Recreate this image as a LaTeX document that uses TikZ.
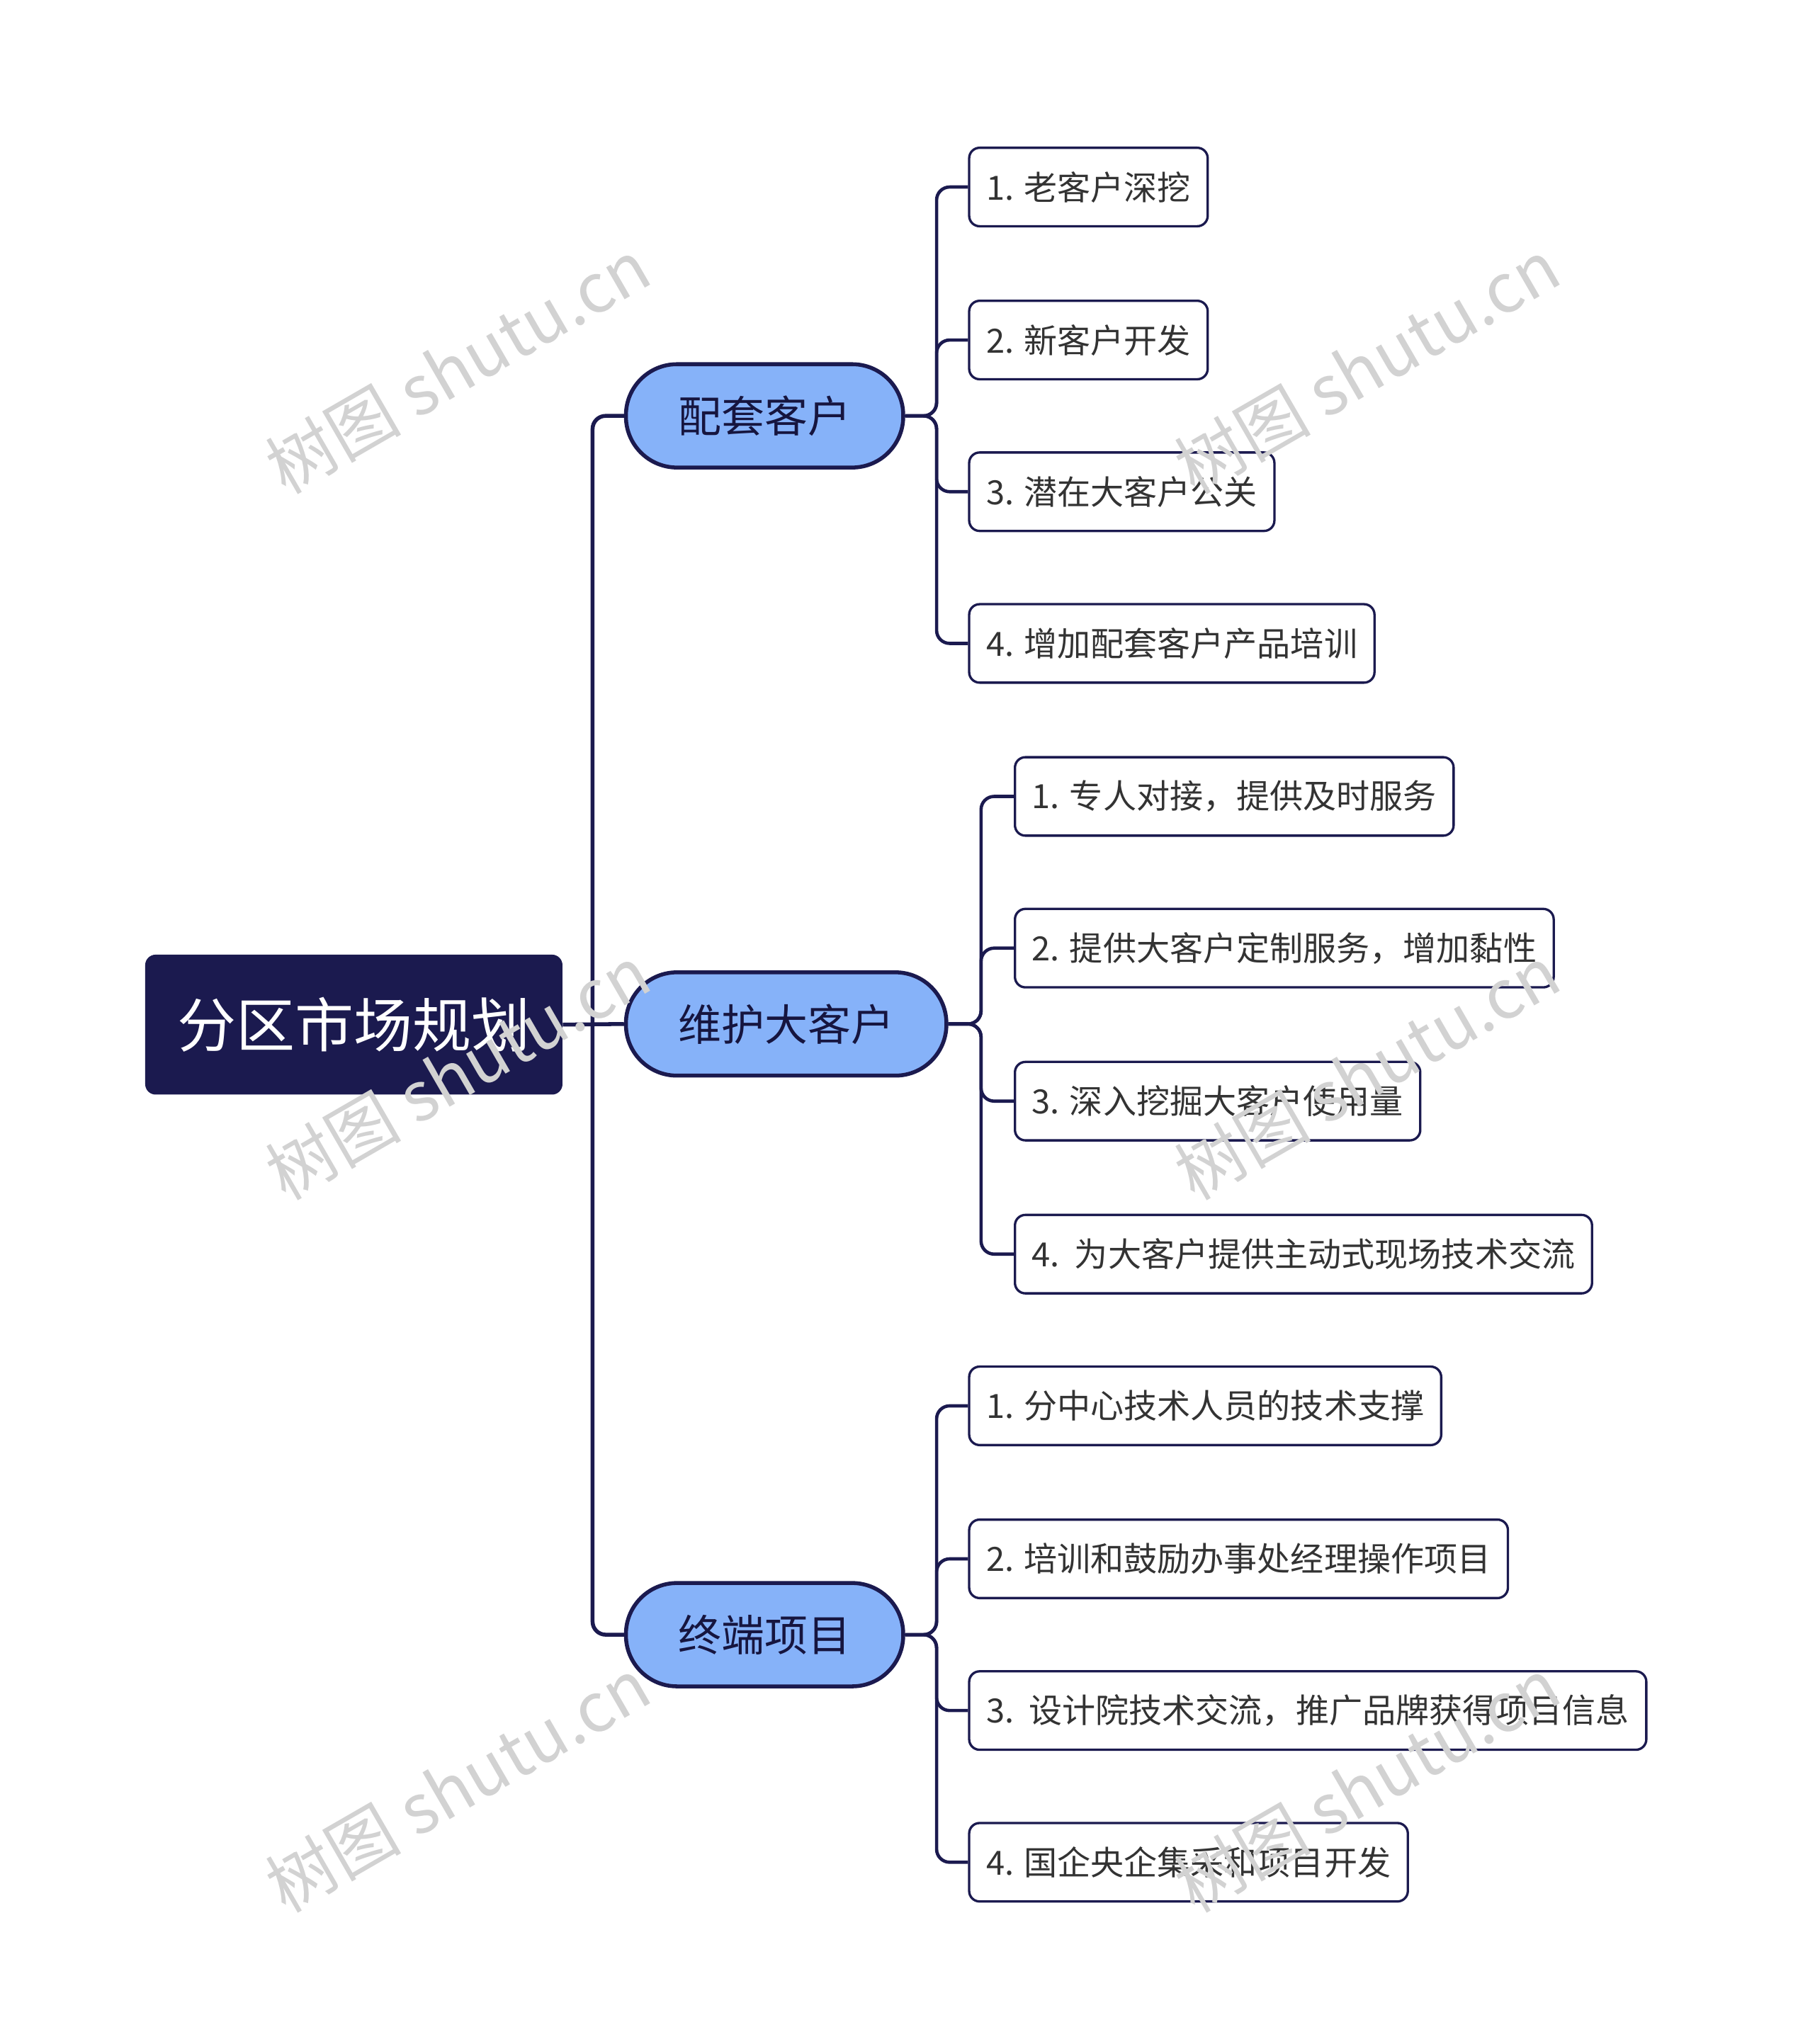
\documentclass[tikz,border=0pt]{standalone}
\usepackage{fontspec}
\setmainfont{Noto Sans CJK SC}
\definecolor{navy}{HTML}{1B1A4F}
\definecolor{lblue}{HTML}{86B2F9}
\begin{document}
\begin{tikzpicture}[x=1pt,y=-1pt,
 rootbox/.style={fill=navy,rounded corners=8,text=white,font=\fontsize{45}{50}\selectfont,minimum width=319,minimum height=107,inner sep=0},
 midbox/.style={fill=lblue,draw=navy,line width=3,rounded corners=39,font=\fontsize{33}{38}\selectfont,minimum height=79,text=navy!80!black,inner xsep=40,anchor=west},
 leafbox/.style={fill=white,draw=navy,line width=1.8,rounded corners=8,font=\fontsize{25.5}{30}\selectfont,minimum height=60,text=black!80,inner xsep=13,anchor=west},
 link/.style={draw=navy,line width=3,rounded corners=10},
 wm/.style={text=gray!35,font=\fontsize{52}{60}\selectfont,rotate=30}]
\useasboundingbox (0,0) rectangle (1387,1563);
\node[rootbox] (r) at (270.5,783.5) {分区市场规划};
\node[midbox] (a) at (477,318) {配套客户};
\node[midbox] (b) at (477,783) {维护大客户};
\node[midbox] (c) at (477,1250) {终端项目};
\draw[link] (r.east) -- (b.west);
\coordinate (t) at (453,783);
\draw[link] (t) |- (a.west);
\draw[link] (t) |- (c.west);
\node[leafbox] (a1) at (740,143) {1. 老客户深挖};
\node[leafbox] (a2) at (740,260) {2. 新客户开发};
\node[leafbox] (a3) at (740,376) {3. 潜在大客户公关};
\node[leafbox] (a4) at (740,492) {4. 增加配套客户产品培训};
\node[leafbox] (b1) at (775,609) {1. 专人对接，提供及时服务};
\node[leafbox] (b2) at (775,725) {2. 提供大客户定制服务，增加黏性};
\node[leafbox] (b3) at (775,842) {3. 深入挖掘大客户使用量};
\node[leafbox] (b4) at (775,959) {4.\ \ 为大客户提供主动式现场技术交流};
\node[leafbox] (c1) at (740,1075) {1. 分中心技术人员的技术支撑};
\node[leafbox] (c2) at (740,1192) {2. 培训和鼓励办事处经理操作项目};
\node[leafbox] (c3) at (740,1308) {3.\ \ 设计院技术交流，推广品牌获得项目信息};
\node[leafbox] (c4) at (740,1424) {4. 国企央企集采和项目开发};
\foreach \p/\x in {a/716,c/716,b/750}{
 \foreach \i in {1,2,3,4}{
  \draw[navy,line width=2.5,rounded corners=10] (\p.east) -- (\x,0 |- \p.east) |- (\p\i.west);
 }}
\foreach \x/\y in {350/280,1045/280,350/820,1045/820,350/1365,1045/1365}
 \node[wm] at (\x,\y) {树图 shutu.cn};
\end{tikzpicture}
\end{document}
